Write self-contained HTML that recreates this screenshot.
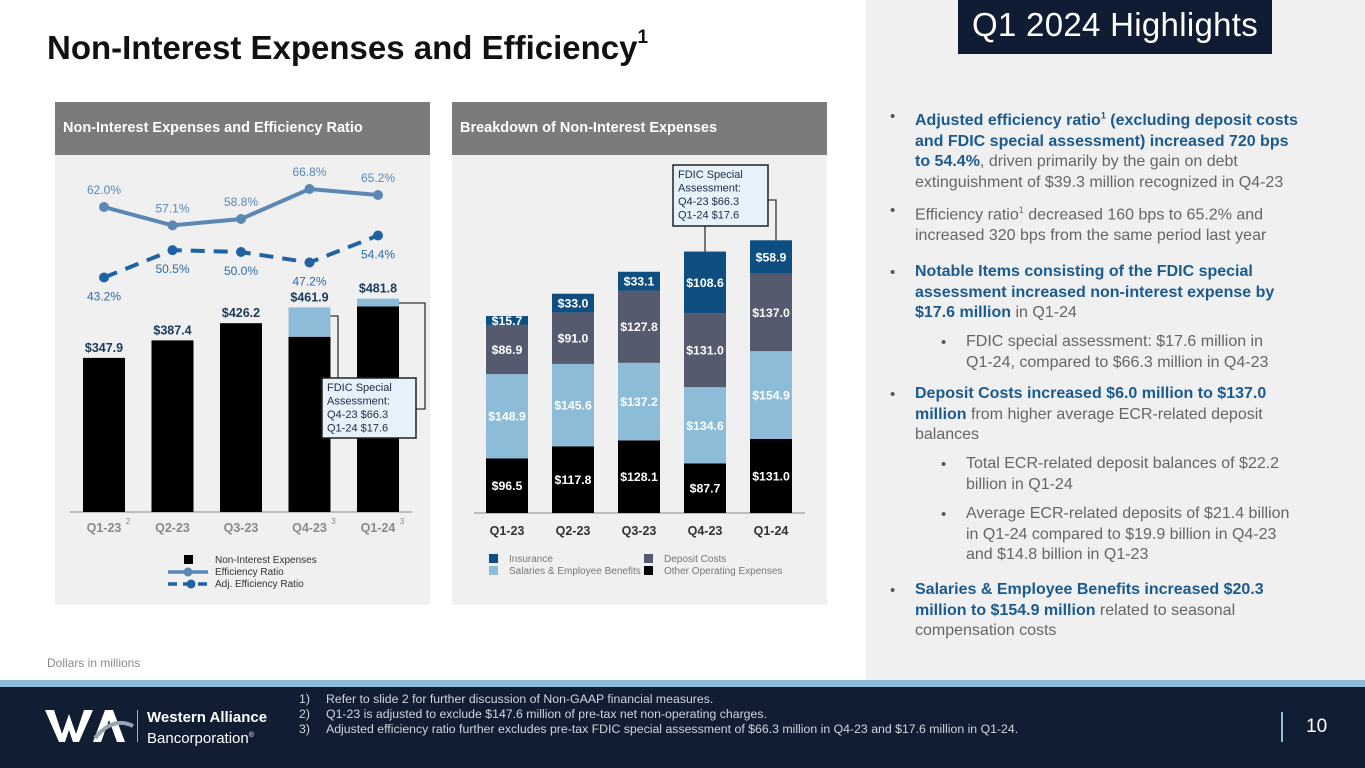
<!DOCTYPE html>
<html><head><meta charset="utf-8">
<style>
*{margin:0;padding:0;box-sizing:border-box}
body{width:1365px;height:768px;overflow:hidden;background:#fff;font-family:"Liberation Sans",Arial,sans-serif;position:relative}
.abs{position:absolute}
.side{left:866px;top:0;width:499px;height:680px;background:#f0f0f0}
.hl{left:958px;top:0;width:314px;height:54px;background:#0f1c33;color:#fff;font-size:33px;text-align:center;line-height:50px;letter-spacing:0.3px}
.title{left:47px;top:29px;font-size:33px;font-weight:bold;color:#111;white-space:nowrap;letter-spacing:0px}
.title sup{font-size:19px;position:relative;top:-4px}
.panel{background:#f0f0f0}
.phead{background:#7b7b7b;color:#fff;font-weight:bold;font-size:14.5px;line-height:53px;padding-left:8px}
.b{position:absolute;font-size:16px;line-height:20.5px;color:#666;white-space:nowrap}
.b .dot{position:absolute;left:-25px;top:1px;color:#555;font-size:15px}
.b strong{color:#1b5a8e}
.b sup{font-size:9px}
.foot{left:0;top:680px;width:1365px;height:88px;background:#111d33}
.band{left:0;top:680px;width:1365px;height:7px;background:#8fbcd9}
.fn{left:299px;font-size:12.3px;color:#d0d5de;white-space:nowrap}
.fn span{display:inline-block;width:27px}
</style></head>
<body>
<div class="abs side"></div>
<div class="abs hl">Q1 2024 Highlights</div>
<div class="abs title">Non-Interest Expenses and Efficiency<sup>1</sup></div>

<div class="abs panel" style="left:55px;top:102px;width:375px;height:503px">
  <div class="phead">Non-Interest Expenses and Efficiency Ratio</div>
</div>
<div class="abs panel" style="left:452px;top:102px;width:375px;height:503px">
  <div class="phead">Breakdown of Non-Interest Expenses</div>
</div>

<svg class="abs" style="left:0;top:0" width="866" height="680" id="charts"></svg>

<div class="abs" style="left:47px;top:656px;font-size:12px;color:#8a8a8a">Dollars in millions</div>

<div class="b" style="left:915px;top:106px"><span class="dot">•</span><strong>Adjusted efficiency ratio<sup>1</sup> (excluding deposit costs<br>and FDIC special assessment) increased 720 bps<br>to 54.4%</strong>, driven primarily by the gain on debt<br>extinguishment of $39.3 million recognized in Q4-23</div>
<div class="b" style="left:915px;top:200px"><span class="dot">•</span>Efficiency ratio<sup>1</sup> decreased 160 bps to 65.2% and<br>increased 320 bps from the same period last year</div>
<div class="b" style="left:915px;top:262px"><span class="dot">•</span><strong>Notable Items consisting of the FDIC special<br>assessment increased non-interest expense by<br>$17.6 million</strong> in Q1-24</div>
<div class="b" style="left:966px;top:332px"><span class="dot">•</span>FDIC special assessment: $17.6 million in<br>Q1-24, compared to $66.3 million in Q4-23</div>
<div class="b" style="left:915px;top:384px"><span class="dot">•</span><strong>Deposit Costs increased $6.0 million to $137.0<br>million</strong> from higher average ECR-related deposit<br>balances</div>
<div class="b" style="left:966px;top:454px"><span class="dot">•</span>Total ECR-related deposit balances of $22.2<br>billion in Q1-24</div>
<div class="b" style="left:966px;top:504px"><span class="dot">•</span>Average ECR-related deposits of $21.4 billion<br>in Q1-24 compared to $19.9 billion in Q4-23<br>and $14.8 billion in Q1-23</div>
<div class="b" style="left:915px;top:580px"><span class="dot">•</span><strong>Salaries &amp; Employee Benefits increased $20.3<br>million to $154.9 million</strong> related to seasonal<br>compensation costs</div>

<div class="abs foot"></div>
<div class="abs band"></div>
<svg class="abs" style="left:45px;top:708px" width="90" height="36">
  <polygon points="0,2 9,2 17,26 24,6 31,26 39,2 48,2 34,34 28,34 24,22 20,34 14,34" fill="#fff"/>
  <polygon points="48,34 60,2 68,2 80,34 72,34 64,12 56,34" fill="#fff"/>
  <path d="M50,30 Q68,8 88,18" stroke="#9aa3b0" stroke-width="4" fill="none"/>
</svg>
<div class="abs" style="left:137px;top:710px;width:1px;height:32px;background:#aab"></div>
<div class="abs" style="left:147px;top:709px;color:#fff;font-size:15px;font-weight:bold;line-height:18px">Western Alliance<br><span style="font-weight:normal">Bancorporation<sup style="font-size:7px">®</sup></span></div>
<div class="abs fn" style="top:692px"><span>1)</span>Refer to slide 2 for further discussion of Non-GAAP financial measures.</div>
<div class="abs fn" style="top:707px"><span>2)</span>Q1-23 is adjusted to exclude $147.6 million of pre-tax net non-operating charges.</div>
<div class="abs fn" style="top:722px"><span>3)</span>Adjusted efficiency ratio further excludes pre-tax FDIC special assessment of $66.3 million in Q4-23 and $17.6 million in Q1-24.</div>
<div class="abs" style="left:1281px;top:712px;width:2px;height:30px;background:#8fbcd9"></div>
<div class="abs" style="left:1306px;top:716px;color:#fff;font-size:19px">10</div>

<script>
// ---- Left chart data ----
const quarters = ["Q1-23","Q2-23","Q3-23","Q4-23","Q1-24"];
const quarterSups = ["2","","","3","3"];
const totalExpenses = [347.9,387.4,426.2,461.9,481.8];
const fdicAssessment = [0,0,0,66.3,17.6];
const efficiencyRatio = [62.0,57.1,58.8,66.8,65.2];
const adjEfficiencyRatio = [43.2,50.5,50.0,47.2,54.4];
// ---- Right chart data ----
const otherOperating = [96.5,117.8,128.1,87.7,131.0];
const salariesBenefits = [148.9,145.6,137.2,134.6,154.9];
const depositCosts = [86.9,91.0,127.8,131.0,137.0];
const insurance = [15.7,33.0,33.1,108.6,58.9];

const NS = "http://www.w3.org/2000/svg";
const svg = document.getElementById("charts");
function mk(tag, attrs, parent){
  const e = document.createElementNS(NS, tag);
  for (const k in attrs) e.setAttribute(k, attrs[k]);
  (parent||svg).appendChild(e);
  return e;
}
function txt(x,y,s,attrs){
  const t = mk("text", Object.assign({x:x,y:y,"text-anchor":"middle","font-family":"Liberation Sans, Arial, sans-serif"},attrs));
  t.textContent = s;
  return t;
}

// Left axes
const L = {base:512, scale:0.443, x0:104, step:68.5, bw:42};
const lx = i => L.x0 + i*L.step;
const ly = v => L.base - v*L.scale;
const ry = v => 439.5 - 3.75*v;

mk("line",{x1:70,y1:L.base,x2:412,y2:L.base,stroke:"#888","stroke-width":1});
quarters.forEach((q,i)=>{
  const base = totalExpenses[i]-fdicAssessment[i];
  const b = mk("rect",{x:lx(i)-L.bw/2,y:ly(base),width:L.bw,height:L.base-ly(base),fill:"#000"});
  
  
  if (fdicAssessment[i]>0){
    const f = mk("rect",{x:lx(i)-L.bw/2,y:ly(totalExpenses[i]),width:L.bw,height:ly(base)-ly(totalExpenses[i]),fill:"#8dbcd8"});
    
    
  }
  const lab = txt(lx(i),ly(totalExpenses[i])-6,"$"+totalExpenses[i].toFixed(1),{"font-size":12.5,"font-weight":"bold",fill:"#1c3a5c"});
  
  
  const xl = txt(lx(i),532,q,{"font-size":12.5,"font-weight":"bold",fill:"#8a8a8a"});
  
  
  if (quarterSups[i]){
    const s = txt(lx(i)+24,524,quarterSups[i],{"font-size":8,fill:"#8a8a8a"});
    
    
  }
});
// lines
const effPts = efficiencyRatio.map((v,i)=>lx(i)+","+ry(v)).join(" ");
const effLine = mk("polyline",{points:effPts,fill:"none",stroke:"#5b87b5","stroke-width":4});


const adjPts = adjEfficiencyRatio.map((v,i)=>lx(i)+","+ry(v)).join(" ");
const adjLine = mk("polyline",{points:adjPts,fill:"none",stroke:"#1f63a3","stroke-width":4,"stroke-dasharray":"14,9"});


efficiencyRatio.forEach((v,i)=>{
  const c = mk("circle",{cx:lx(i),cy:ry(v),r:5,fill:"#5b87b5"});
  
  
  const t = txt(lx(i),ry(v)-13,v.toFixed(1)+"%",{"font-size":12,fill:"#5b87b5"});
  
  
});
adjEfficiencyRatio.forEach((v,i)=>{
  const c = mk("circle",{cx:lx(i),cy:ry(v),r:5,fill:"#1f63a3"});
  
  
  const t = txt(lx(i),ry(v)+23,v.toFixed(1)+"%",{"font-size":12,fill:"#2e6aa6"});
  
  
});
// left callout
mk("polyline",{points:`${lx(3)+L.bw/2},316 338,316 338,378`,fill:"none",stroke:"#333","stroke-width":1.3});
mk("polyline",{points:`${lx(4)+L.bw/2},303 425,303 425,409 416,409`,fill:"none",stroke:"#333","stroke-width":1.3});
const lc = mk("rect",{x:322,y:378,width:94,height:60,fill:"#e6f1fa",stroke:"#222","stroke-width":1.5});


["FDIC Special","Assessment:","Q4-23 $66.3","Q1-24 $17.6"].forEach((s,k)=>{
  txt(327,391+k*13.5,s,{"font-size":11,"text-anchor":"start",fill:"#1c2c44"});
});
// left legend
mk("rect",{x:184,y:555,width:9,height:9,fill:"#000"});
mk("line",{x1:168,y1:572,x2:208,y2:572,stroke:"#5b87b5","stroke-width":3.5});
mk("circle",{cx:188,cy:572,r:4.5,fill:"#5b87b5"});
mk("line",{x1:168,y1:584,x2:208,y2:584,stroke:"#1f63a3","stroke-width":3.5,"stroke-dasharray":"9,6"});
mk("circle",{cx:191,cy:584,r:4.5,fill:"#1f63a3"});
[["Non-Interest Expenses",563],["Efficiency Ratio",575],["Adj. Efficiency Ratio",587]].forEach(([s,y])=>{
  const t = txt(215,y,s,{"font-size":10,"text-anchor":"start",fill:"#333"});
  
  
});

// Right chart
const R = {base:513, scale:0.566, x0:507, step:66, bw:42};
const bx = i => R.x0 + i*R.step;
const by = v => R.base - v*R.scale;
mk("line",{x1:474,y1:R.base,x2:805,y2:R.base,stroke:"#888","stroke-width":1});
const series = [
  {name:"other-operating",vals:otherOperating,col:"#000"},
  {name:"salaries-benefits",vals:salariesBenefits,col:"#8dbcd8"},
  {name:"deposit-costs",vals:depositCosts,col:"#555a6e"},
  {name:"insurance",vals:insurance,col:"#0f4e80"}
];
quarters.forEach((q,i)=>{
  let cum = 0;
  series.forEach(s=>{
    const v = s.vals[i];
    const y1 = by(cum), y2 = by(cum+v);
    const r = mk("rect",{x:bx(i)-R.bw/2,y:y2,width:R.bw,height:y1-y2,fill:s.col});
    
    
    const t = txt(bx(i),(y1+y2)/2+4.5,"$"+v.toFixed(1),{"font-size":12.3,"font-weight":"bold",fill:"#fff"});
    
    
    cum += v;
  });
  const xl = txt(bx(i),535,q,{"font-size":12.5,"font-weight":"bold",fill:"#333"});
  
  
});
// right callout
const tot3 = otherOperating[3]+salariesBenefits[3]+depositCosts[3]+insurance[3];
const tot4 = otherOperating[4]+salariesBenefits[4]+depositCosts[4]+insurance[4];
mk("line",{x1:705,y1:226,x2:705,y2:by(tot3),stroke:"#333","stroke-width":1.3});
mk("polyline",{points:`768,200 776,200 776,${by(tot4)}`,fill:"none",stroke:"#333","stroke-width":1.3});
const rc = mk("rect",{x:673,y:165,width:95,height:61,fill:"#e6f1fa",stroke:"#222","stroke-width":1.5});


["FDIC Special","Assessment:","Q4-23 $66.3","Q1-24 $17.6"].forEach((s,k)=>{
  txt(678,178+k*13.5,s,{"font-size":11,"text-anchor":"start",fill:"#1c2c44"});
});
// right legend
[["Insurance","#0f4e80",489,558],["Salaries & Employee Benefits","#8dbcd8",489,570],["Deposit Costs","#555a6e",644,558],["Other Operating Expenses","#000",644,570]].forEach(([s,c,x,y])=>{
  mk("rect",{x:x-0,y:y-4,width:9,height:9,fill:c});
  const t = txt(x+20,y+4,s,{"font-size":10,"text-anchor":"start",fill:"#777"});
  
  
});
</script>
</body></html>
